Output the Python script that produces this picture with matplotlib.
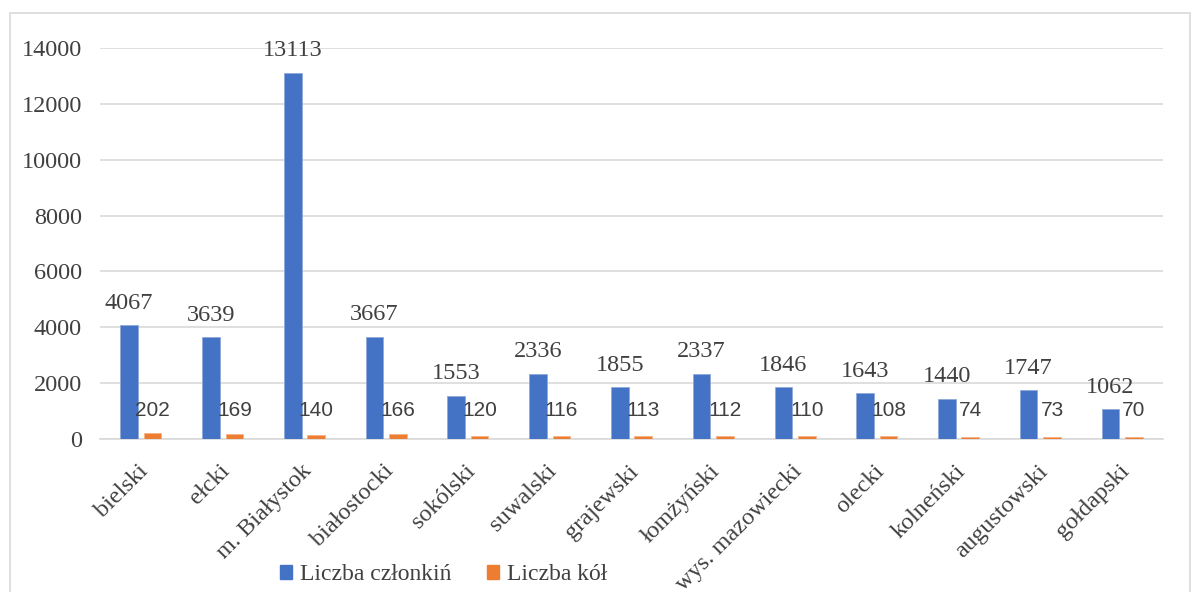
import numpy as np
import matplotlib.pyplot as plt
import matplotlib.transforms as mtransforms
from matplotlib.patches import Patch, Rectangle

# data
powiaty = ['bielski', 'ełcki', 'm. Białystok', 'białostocki', 'sokólski', 'suwalski',
           'grajewski', 'łomżyński', 'wys. mazowiecki', 'olecki', 'kolneński',
           'augustowski', 'gołdapski']
czlonkinie = [4067, 3639, 13113, 3667, 1553, 2336, 1855, 2337, 1846, 1643, 1440, 1747, 1062]
kola = [202, 169, 140, 166, 120, 116, 113, 112, 110, 108, 74, 73, 70]

blue = '#4472C4'
orange = '#ED7D31'
txt = '#404040'
serif = ['Liberation Serif', 'DejaVu Serif']
sans = ['Liberation Sans', 'DejaVu Sans']

W, H = 1197, 592
fig = plt.figure(figsize=(W / 100, H / 100), dpi=100)
fig.patch.set_facecolor('white')

# chart frame (light gray border)
fig.patches.append(Rectangle((10 / W, -0.05), (1190 - 10) / W, 1.05 - 13 / H,
                             transform=fig.transFigure, fill=False,
                             edgecolor='#d9d9d9', linewidth=1.2))

ax = fig.add_axes([100 / W, (H - 439) / H, (1163 - 100) / W, (439 - 48) / H])
x = np.arange(len(powiaty))
w = 0.216
off = 0.143
ax.bar(x - off, czlonkinie, w, color=blue, edgecolor='#8eaadb', linewidth=0.6, zorder=3)
ax.bar(x + off, kola, w, color=orange, edgecolor='#f4b183', linewidth=0.6, zorder=3)

ax.set_xlim(-0.5, len(powiaty) - 0.5)
ax.set_ylim(0, 14000)
ax.set_yticks(np.arange(0, 14001, 2000))
ax.grid(axis='y', color='#d9d9d9', linewidth=1.2, zorder=0)
for s in ['top', 'right', 'left']:
    ax.spines[s].set_visible(False)
ax.spines['bottom'].set_color('#d9d9d9')
ax.spines['bottom'].set_linewidth(1.2)
ax.tick_params(length=0)
ax.tick_params(axis='y', pad=13)

for lab in ax.get_yticklabels():
    lab.set_fontfamily(serif)
    lab.set_fontsize(17.5)
    lab.set_color(txt)

ax.set_xticks(x)
ax.set_xticklabels(powiaty, rotation=45, ha='right', va='center', rotation_mode='anchor',
                   fontfamily=serif, fontsize=17.5, color=txt)
ax.tick_params(axis='x', pad=21)
shift = mtransforms.ScaledTranslation(4 / 100, 0, fig.dpi_scale_trans)
for lab in ax.get_xticklabels():
    lab.set_transform(lab.get_transform() + shift)

for xi, v in zip(x, czlonkinie):
    ax.annotate(str(v), (xi - off, v), xytext=(0, 22), textcoords='offset pixels',
                ha='center', va='center', fontfamily=serif, fontsize=17.5, color=txt)
for xi, v in zip(x, kola):
    ax.annotate(str(v), (xi + off, 0), xytext=(0, 29), textcoords='offset pixels',
                ha='center', va='center', fontfamily=sans, fontsize=15, color=txt)

handles = [Patch(color=blue), Patch(color=orange)]
leg = fig.legend(handles, ['Liczba członkiń', 'Liczba kół'], loc='center',
                 bbox_to_anchor=(444 / W, 1 - 575 / H), ncol=2, frameon=False,
                 handlelength=0.5, handleheight=0.5, handletextpad=0.35,
                 columnspacing=1.5, prop={'family': serif, 'size': 17})
for t in leg.get_texts():
    t.set_color(txt)

fig.savefig('out.png', dpi=100)
